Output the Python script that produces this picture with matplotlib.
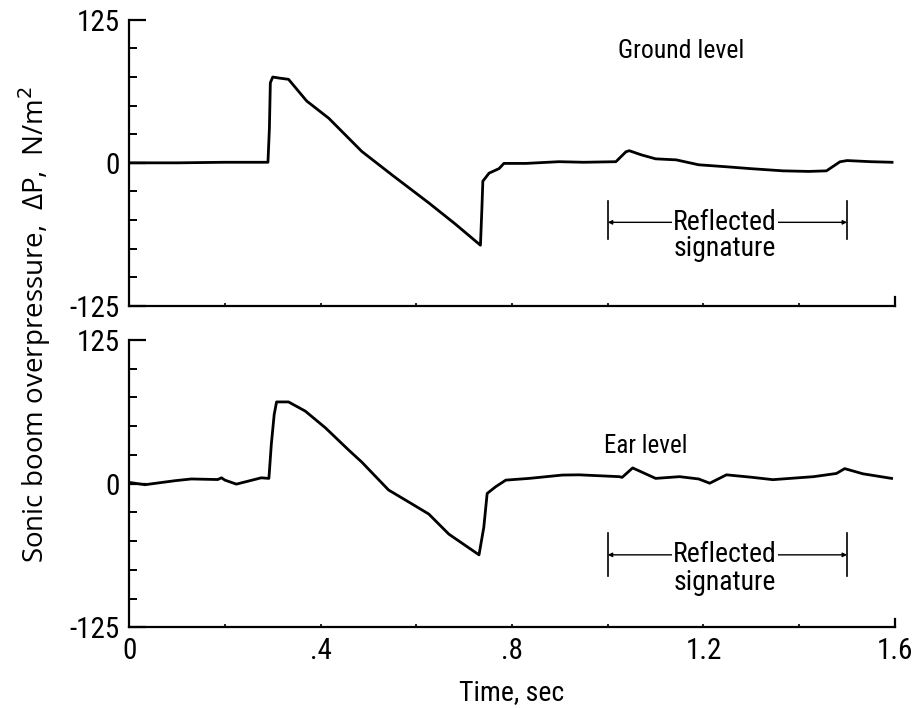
import matplotlib
matplotlib.use('Agg')
import matplotlib.pyplot as plt
from matplotlib import font_manager

# look for a condensed face for the lettering, like the original figure
fonts = font_manager.fontManager.ttflist
names = {f.name for f in fonts}
narrow = 'DejaVu Sans'
for cand in ['Liberation Sans Narrow', 'DejaVu Sans Condensed', 'Roboto Condensed',
             'Open Sans Condensed', 'Noto Sans Condensed']:
    if cand in names:
        narrow = cand
        break
plt.rcParams['font.family'] = [narrow, 'DejaVu Sans']

# ground level trace (time in sec, overpressure in N/m^2)
t_ground = [0, 0.1, 0.2, 0.29, 0.293, 0.295, 0.30, 0.315, 0.333, 0.371, 0.417, 0.486,
            0.549, 0.626, 0.68, 0.734, 0.737, 0.739, 0.752, 0.773, 0.783, 0.829,
            0.898, 0.95, 1.017, 1.038, 1.045, 1.07, 1.10, 1.143, 1.19, 1.25,
            1.296, 1.366, 1.42, 1.457, 1.485, 1.50, 1.55, 1.594]
p_ground = [0, 0, 0.5, 0.5, 30, 70, 75, 74, 73, 54, 39, 10,
            -10.5, -35, -53, -72, -40, -16, -9, -5, -0.5, -0.5,
            1, 0.5, 1, 9.7, 10.6, 7, 3.5, 2.6, -1.7, -3.5,
            -5, -7, -7.5, -7, 0.9, 2, 1, 0.5]

# ear level trace
t_ear = [0, 0.033, 0.096, 0.13, 0.185, 0.193, 0.20, 0.224, 0.276, 0.292, 0.297,
         0.303, 0.308, 0.333, 0.368, 0.41, 0.459, 0.486, 0.542, 0.584, 0.626,
         0.668, 0.731, 0.736, 0.741, 0.748, 0.766, 0.787, 0.836, 0.905, 0.94,
         1.024, 1.03, 1.052, 1.10, 1.15, 1.19, 1.213, 1.248, 1.30, 1.345,
         1.43, 1.478, 1.495, 1.533, 1.593]
p_ear = [1, -1, 2.5, 4, 3.5, 5, 3, -0.5, 5, 4.5, 34,
         60, 71, 71, 63, 48.5, 29, 18.7, -5.6, -16, -26.5,
         -44, -62, -50, -38, -8.6, -2.7, 3, 4.5, 7.4, 7.6,
         6, 5.4, 13.6, 4.5, 6, 4, 0.3, 7.6, 5.5, 3.4,
         6, 8.8, 13, 8.5, 4.5]

x_ticks = [0, 0.4, 0.8, 1.2, 1.6]
x_ticklabels = ['0', '.4', '.8', '1.2', '1.6']
y_ticks = [-125, 0, 125]
y_ticklabels = ['-125', '0', '125']
reflected = (1.0, 1.5)

fig = plt.figure(figsize=(9.16, 7.08), dpi=100)
ax1 = fig.add_axes([0.141, 0.568, 0.836, 0.404])
ax2 = fig.add_axes([0.141, 0.114, 0.836, 0.406])


def style(ax, show_x):
    for s in ['top', 'right']:
        ax.spines[s].set_visible(False)
    for s in ['left', 'bottom']:
        ax.spines[s].set_linewidth(1.6)
    ax.set_xlim(0, 1.6)
    ax.set_ylim(-125, 125)
    ax.set_yticks(y_ticks)
    ax.set_yticklabels(y_ticklabels)
    ax.set_yticks(range(-100, 125, 25), minor=True)
    ax.tick_params(axis='y', which='major', direction='in', length=12,
                   width=1.6, labelsize=21, pad=7)
    ax.tick_params(axis='y', which='minor', direction='in', length=6, width=1.4)
    ax.set_xticks([0.2 * i for i in range(9)])
    ax.tick_params(axis='x', which='major', direction='in', length=2.5,
                   width=1.2, labelsize=21, pad=7)
    if show_x:
        ax.set_xticks(x_ticks, minor=False)
        ax.set_xticks([0.2, 0.6, 1.0, 1.4], minor=True)
        ax.set_xticklabels(x_ticklabels)
        ax.tick_params(axis='x', which='minor', direction='in', length=2.5, width=1.2)
    else:
        ax.set_xticklabels([])
    # short upright stroke closing the time axis at 1.6 s
    ax.axvline(1.6, ymin=0, ymax=0.03, color='black', lw=1.6, clip_on=False)


def reflected_mark(ax, y, y0, y1, ytxt):
    for x in reflected:
        ax.plot([x, x], [y0, y1], color='black', lw=1.2)
    ax.annotate('', xy=(reflected[0], y), xytext=(reflected[1], y),
                arrowprops=dict(arrowstyle='<|-|>', color='black', lw=1.0,
                                mutation_scale=6, shrinkA=0, shrinkB=0))
    mid = (reflected[0] + reflected[1]) / 2 - 0.005
    ax.text(mid, y, 'Reflected', ha='center', va='center', fontsize=20,
            bbox=dict(facecolor='white', edgecolor='none', pad=1))
    ax.text(mid, ytxt, 'signature', ha='center', va='center', fontsize=20)


style(ax1, False)
style(ax2, True)

ax1.plot(t_ground, p_ground, color='black', lw=2.0)
ax2.plot(t_ear, p_ear, color='black', lw=2.0)

ax1.text(1.154, 98, 'Ground level', ha='center', va='center', fontsize=18.5)
ax2.text(1.08, 33, 'Ear level', ha='center', va='center', fontsize=18)

reflected_mark(ax1, -52, -33, -67, -75)
reflected_mark(ax2, -62, -43, -80, -86)

ax2.set_xlabel('Time, sec', fontsize=20, labelpad=10)

fig.text(0.038, 0.541, 'Sonic boom overpressure,  ΔP,  N/m$^2$',
         rotation=90, ha='center', va='center', fontsize=20,
         family=['Open Sans', 'DejaVu Sans'])

fig.savefig('out.png', dpi=100)
